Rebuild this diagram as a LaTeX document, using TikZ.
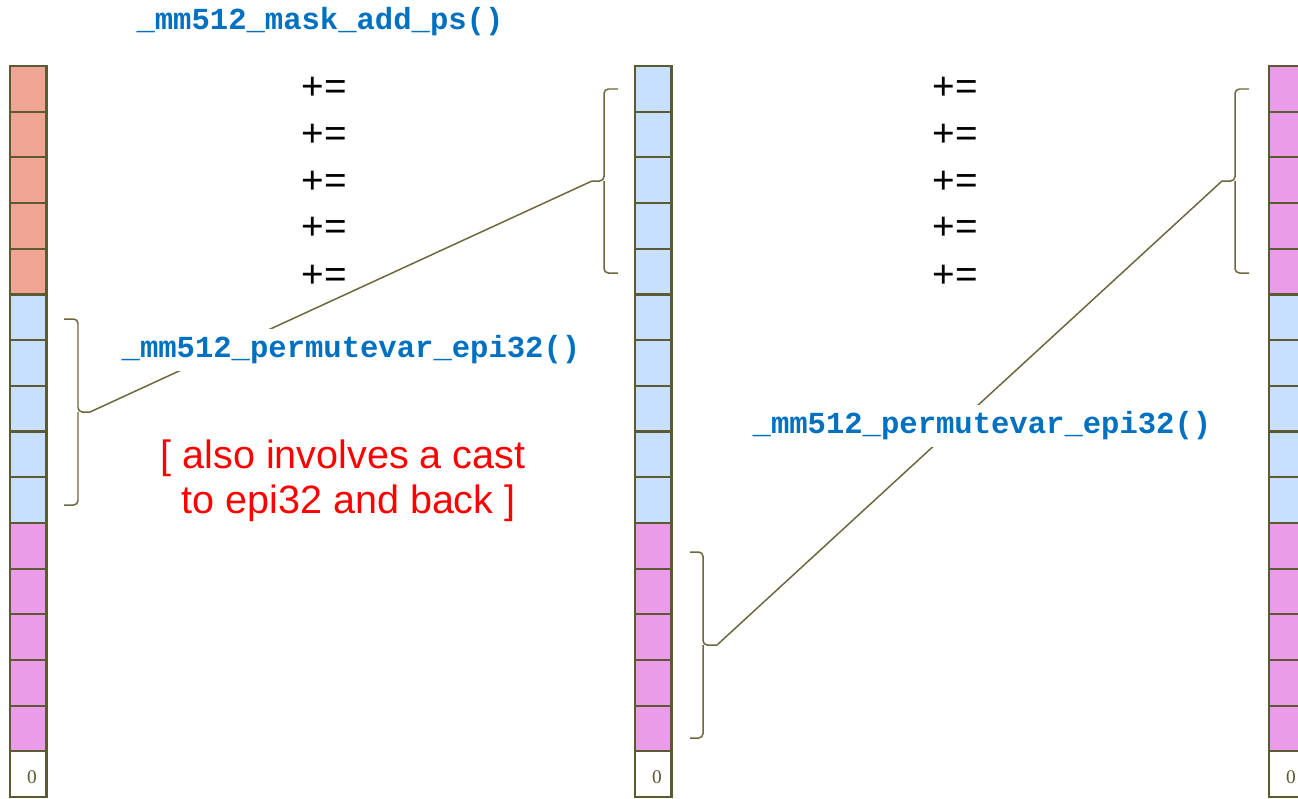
\documentclass[tikz,border=0pt]{standalone}
\usepackage{fontspec}
\setmainfont{Liberation Sans}
\newfontfamily\codefont{Liberation Mono}
\newfontfamily\cellfont{Liberation Serif}
\usetikzlibrary{positioning}
\definecolor{regred}{RGB}{240,165,148}
\definecolor{regblue}{RGB}{199,224,255}
\definecolor{regpink}{RGB}{234,156,232}
\definecolor{regedge}{RGB}{92,90,50}
\definecolor{bracecol}{RGB}{106,104,60}
\definecolor{intrin}{RGB}{0,112,192}

\begin{document}
\begin{tikzpicture}[x=0.02cm,y=-0.02cm,
	cell/.style={draw=regedge,line width=1.2pt},
	brc/.style={draw=bracecol,line width=0.85pt,rounded corners=2.5pt},
	link/.style={draw=bracecol,line width=0.85pt},
	intr/.style={text=intrin,fill=white,inner sep=4pt,font=\codefont\bfseries\fontsize{17.4}{20}\selectfont},
	op/.style={font=\fontsize{22}{26}\selectfont},
	note/.style={text=red,align=center,font=\fontsize{22.5}{25.5}\selectfont},
	zero/.style={text=regedge,font=\cellfont\fontsize{11}{13}\selectfont}]
	\useasboundingbox (0,0) rectangle (1298,798);

	% the three registers, 16 lanes each
	\foreach \x/\ca/\cb/\cc in {10/regred/regblue/regpink,635/regblue/regblue/regpink,1269/regpink/regblue/regpink} {
		\foreach \i in {0,...,4} {
			\draw[cell,fill=\ca] (\x,66+\i*45.69) rectangle +(36.5,45.69);
			\draw[cell,fill=\cb] (\x,294.45+\i*45.69) rectangle +(36.5,45.69);
			\draw[cell,fill=\cc] (\x,522.9+\i*45.69) rectangle +(36.5,45.69);
		}
		\draw[cell,fill=white] (\x,751.35) rectangle +(36.5,45.69);
		\node[zero] (zero\x) at (\x+22,777) {0};
	}

	% braces
	\draw[brc] (64,319) -- (78,319) -- (78,412) -- (90,412);
	\draw[brc] (64,505) -- (78,505) -- (78,412);
	\coordinate (srctip) at (90,412);

	\draw[brc] (618,89) -- (604,89) -- (604,181) -- (592,181);
	\draw[brc] (618,273) -- (604,273) -- (604,181);
	\coordinate (midtoptip) at (592,181);

	\draw[brc] (690,552) -- (703,552) -- (703,645) -- (717,645);
	\draw[brc] (690,738) -- (703,738) -- (703,645);
	\coordinate (midlowtip) at (717,645);

	\draw[brc] (1249,89) -- (1235,89) -- (1235,181) -- (1222,181);
	\draw[brc] (1249,273) -- (1235,273) -- (1235,181);
	\coordinate (dsttip) at (1222,181);

	% permutes
	\draw[link] (srctip) -- (midtoptip);
	\draw[link] (midlowtip) -- (dsttip);
	\node[intr] (permA) at (351,350) {\_mm512\_permutevar\_epi32()};
	\node[intr] (permB) at (982,426) {\_mm512\_permutevar\_epi32()};
	\node[intr] (maskadd) at (320,22) {\_mm512\_mask\_add\_ps()};

	% accumulate
	\foreach \i/\y in {1/88,2/135,3/182,4/228,5/276} {
		\node[op] (opA\i) at (324,\y) {+=};
		\node[op] (opB\i) at (955,\y) {+=};
	}

	\node[note] (castnote) at (343,481) {[ also involves a cast\\\hspace*{0.28em}to epi32 and back ]};
\end{tikzpicture}
\end{document}
